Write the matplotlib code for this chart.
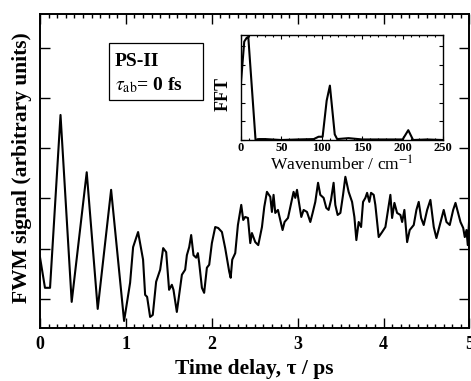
import matplotlib
matplotlib.use('Agg')
import matplotlib.pyplot as plt
from matplotlib.patches import Rectangle
from matplotlib.ticker import MultipleLocator
import numpy as np

plt.rcParams['font.family'] = ['Liberation Serif', 'DejaVu Serif']
plt.rcParams['mathtext.fontset'] = 'stix'

# main trace: time delay (ps) and FWM signal (arb. units)
delay = [0.00, 0.058, 0.117, 0.239, 0.369, 0.544, 0.672, 0.828, 0.979, 1.049,
         1.084, 1.142, 1.200, 1.224, 1.247, 1.282, 1.313, 1.352, 1.399, 1.434,
         1.469, 1.503, 1.535, 1.554, 1.593, 1.652, 1.690, 1.710, 1.737, 1.760,
         1.787, 1.818, 1.838, 1.853, 1.885, 1.911, 1.943, 1.970, 2.001, 2.040,
         2.075, 2.118, 2.156, 2.203, 2.220, 2.238, 2.273, 2.304, 2.343, 2.366,
         2.389, 2.421, 2.448, 2.467, 2.506, 2.541, 2.584, 2.611, 2.642, 2.681,
         2.700, 2.719, 2.739, 2.770, 2.797, 2.824, 2.847, 2.887, 2.914, 2.952,
         2.972, 2.992, 3.010, 3.042, 3.069, 3.108, 3.147, 3.174, 3.205, 3.237,
         3.263, 3.302, 3.333, 3.360, 3.388, 3.418, 3.438, 3.465, 3.497, 3.528,
         3.555, 3.593, 3.633, 3.660, 3.683, 3.710, 3.738, 3.761, 3.788, 3.808,
         3.834, 3.854, 3.885, 3.904, 3.943, 3.983, 4.021, 4.048, 4.079, 4.099,
         4.126, 4.157, 4.196, 4.216, 4.242, 4.274, 4.304, 4.351, 4.382, 4.409,
         4.437, 4.467, 4.507, 4.545, 4.584, 4.615, 4.654, 4.700, 4.732, 4.770,
         4.810, 4.837, 4.864, 4.895, 4.927, 4.945, 4.965, 4.980, 5.000]
signal = [1.83, 1.22, 1.22, 4.66, 0.94, 3.52, 0.80, 3.17, 0.56, 1.32,
          2.03, 2.33, 1.78, 1.08, 1.04, 0.64, 0.68, 1.34, 1.58, 2.01,
          1.93, 1.18, 1.28, 1.18, 0.74, 1.48, 1.58, 1.87, 2.03, 2.27,
          1.87, 1.82, 1.91, 1.72, 1.22, 1.12, 1.62, 1.68, 2.11, 2.43,
          2.41, 2.33, 2.01, 1.54, 1.42, 1.78, 1.91, 2.47, 2.87, 2.57,
          2.63, 2.61, 2.11, 2.31, 2.13, 2.07, 2.43, 2.83, 3.13, 3.03,
          2.73, 3.07, 2.71, 2.77, 2.57, 2.37, 2.53, 2.61, 2.83, 3.13,
          3.01, 3.17, 2.97, 2.63, 2.77, 2.73, 2.53, 2.71, 2.93, 3.31,
          3.07, 3.01, 2.81, 2.77, 2.97, 3.31, 2.87, 2.67, 2.71, 3.07,
          3.43, 3.13, 2.93, 2.63, 2.17, 2.53, 2.43, 2.93, 3.01, 3.11,
          2.93, 3.11, 3.07, 2.87, 2.23, 2.33, 2.43, 2.73, 3.07, 2.61,
          2.91, 2.71, 2.67, 2.53, 2.77, 2.13, 2.37, 2.47, 2.77, 2.93,
          2.61, 2.47, 2.77, 2.97, 2.43, 2.21, 2.47, 2.77, 2.53, 2.47,
          2.77, 2.91, 2.73, 2.53, 2.41, 2.23, 2.37, 2.07, 2.71]

# inset: FFT amplitude vs wavenumber (cm^-1)
wavenumber = [0, 4, 7, 9, 18, 22, 30, 50, 70, 90, 96, 101, 106, 110, 116,
              119, 133, 150, 180, 200, 207, 213, 230, 250]
fft_amp = [0.62, 1.05, 1.09, 1.10, 0.0, 0.01, 0.01, 0.0, 0.006, 0.01, 0.035,
           0.035, 0.42, 0.58, 0.06, 0.01, 0.02, 0.006, 0.006, 0.006, 0.105,
           0.0, 0.006, 0.0]

fig = plt.figure(figsize=(4.71, 3.81), dpi=100)
ax = fig.add_axes([0.0849, 0.1391, 0.9119, 0.8242])
ax.plot(delay, signal, color='black', lw=1.5)
ax.set_xlim(0, 5)
ax.set_ylim(0.42, 6.67)
ax.xaxis.set_major_locator(MultipleLocator(1))
ax.xaxis.set_minor_locator(MultipleLocator(0.1))
ax.yaxis.set_major_locator(MultipleLocator(1))
ax.tick_params(which='both', direction='in', top=True, right=True, width=1.0)
ax.tick_params(which='major', length=7, labelsize=13, pad=6)
ax.tick_params(which='minor', length=3)
ax.tick_params(axis='y', labelleft=False)
for lbl in ax.get_xticklabels():
    lbl.set_fontweight('bold')
for sp in ax.spines.values():
    sp.set_linewidth(1.4)

fig.text(254 / 471, 1 - 369 / 381, 'Time delay, τ / ps', ha='center', va='center',
         fontsize=15.5, fontweight='bold')
fig.text(22 / 471, 1 - 168 / 381, 'FWM signal (arbitrary units)', ha='center',
         va='center', rotation=90, fontsize=15.5, fontweight='bold')

ax.add_patch(Rectangle((0.161, 0.726), 0.219, 0.182, transform=ax.transAxes,
                       fill=False, ec='black', lw=0.9))
ax.text(0.174, 0.834, 'PS-II', transform=ax.transAxes, fontsize=14,
        fontweight='bold', va='baseline')
ax.text(0.174, 0.757, r'$\tau_{\rm ab}$= 0 fs', transform=ax.transAxes,
        fontsize=14, fontweight='bold', va='baseline')

ins = fig.add_axes([0.5117, 0.6325, 0.4289, 0.2756])
ins.plot(wavenumber, fft_amp, color='black', lw=1.5)
ins.set_xlim(0, 250)
ins.set_ylim(0, 1.12)
ins.xaxis.set_major_locator(MultipleLocator(50))
ins.xaxis.set_minor_locator(MultipleLocator(10))
ins.yaxis.set_major_locator(MultipleLocator(0.2))
ins.tick_params(which='both', direction='in', top=True, right=True, width=0.8)
ins.tick_params(which='major', length=3, labelsize=9, pad=1.5)
ins.tick_params(which='minor', length=1.5)
ins.tick_params(axis='y', labelleft=False)
for lbl in ins.get_xticklabels():
    lbl.set_fontweight('bold')
for sp in ins.spines.values():
    sp.set_linewidth(1.0)
fig.text(342 / 471, 1 - 165 / 381, r'Wavenumber / cm$^{-1}$', ha='center',
         va='center', fontsize=12.5)
fig.text(223 / 471, 1 - 94 / 381, 'FFT', ha='center', va='center', rotation=90,
         fontsize=13, fontweight='bold')

fig.savefig('out.png', dpi=100)
